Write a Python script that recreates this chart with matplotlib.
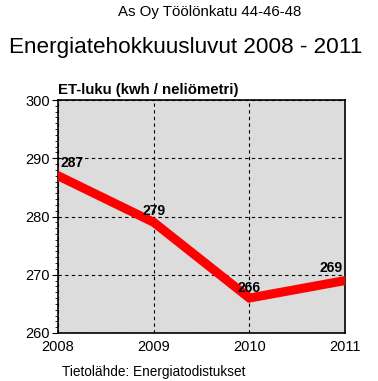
import matplotlib.pyplot as plt
from matplotlib.ticker import MultipleLocator

plt.rcParams['font.family'] = ['Liberation Sans', 'DejaVu Sans']

vuodet = [2008, 2009, 2010, 2011]
et_luku = [287, 279, 266, 269]
y_ticks = [260, 270, 280, 290, 300]

fig = plt.figure(figsize=(3.78, 3.81), dpi=100)
ax = fig.add_axes([58 / 378, 1 - 333 / 381, 287 / 378, 233 / 381])

ax.set_facecolor('#dcdcdc')
ax.plot(vuodet, et_luku, color='#ff0000', linewidth=6.5, solid_joinstyle='miter', zorder=3)

# arvot pisteiden päälle
offsets = [(2, 4, 'left'), (0, 3, 'center'), (0, 2, 'center'), (-2, 4, 'right')]
for x, y, (dx, dy, ha) in zip(vuodet, et_luku, offsets):
    ax.annotate(str(y), (x, y), xytext=(dx, dy), textcoords='offset points',
                ha=ha, va='bottom', fontsize=10, fontweight='bold', zorder=4)

ax.set_xlim(2008, 2011)
ax.set_ylim(260, 300)
ax.set_xticks(vuodet)
ax.set_yticks(y_ticks)
ax.yaxis.set_minor_locator(MultipleLocator(1))
ax.tick_params(axis='y', which='major', length=4, labelsize=10.5, direction='out', pad=2)
ax.tick_params(axis='y', which='minor', length=2, direction='out')
ax.tick_params(axis='x', length=0, labelsize=10.5, pad=5)
ax.grid(True, color='black', linestyle=(0, (3, 3)), linewidth=0.8)
for s in ax.spines.values():
    s.set_linewidth(1.2)

fig.text(210 / 378, 1 - 12 / 381, 'As Oy Töölönkatu 44-46-48', ha='center', va='center', fontsize=10.8)
fig.text(186 / 378, 1 - 47 / 381, 'Energiatehokkuusluvut 2008 - 2011', ha='center', va='center', fontsize=16.2)
fig.text(58 / 378, 1 - 90 / 381, 'ET-luku (kwh / neliömetri)', ha='left', va='center', fontsize=10.8, fontweight='bold')
fig.text(62 / 378, 1 - 372 / 381, 'Tietolähde: Energiatodistukset', ha='left', va='center', fontsize=9.8)

fig.savefig('out.png', dpi=100, facecolor='white')
